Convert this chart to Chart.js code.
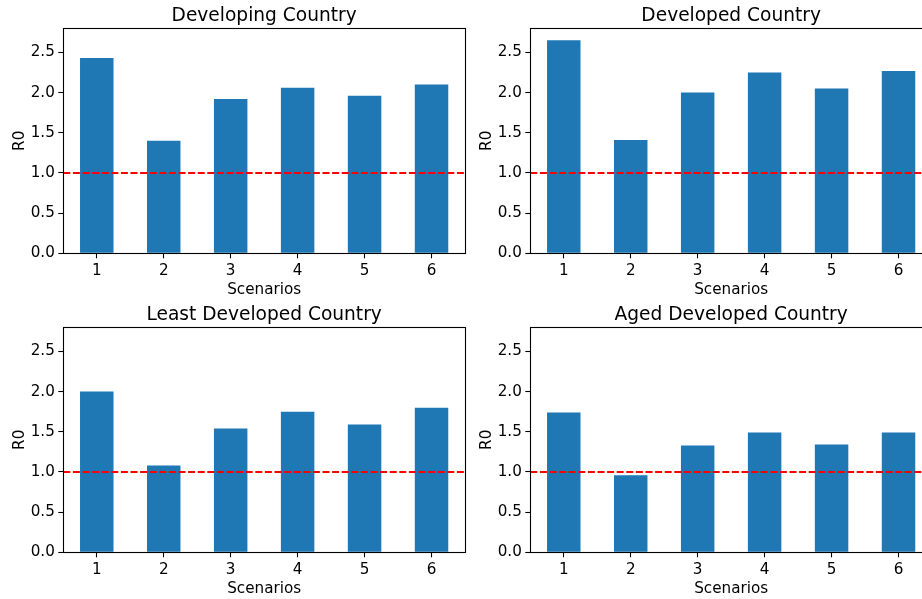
<!DOCTYPE html>
<html>
<head>
<meta charset="utf-8">
<script src="https://cdn.jsdelivr.net/npm/chart.js@4.4.1/dist/chart.umd.min.js"></script>
<style>
  html, body { margin: 0; padding: 0; background: #fff; width: 922px; height: 599px; overflow: hidden; }
  .panel { position: absolute; width: 470px; height: 300px; }
  .panel canvas { display: block; }
</style>
</head>
<body>
<div class="panel" style="left:0px;top:0px;"><canvas id="c1" width="470" height="300"></canvas></div>
<div class="panel" style="left:467px;top:0px;"><canvas id="c2" width="470" height="300"></canvas></div>
<div class="panel" style="left:0px;top:298.5px;"><canvas id="c3" width="470" height="300"></canvas></div>
<div class="panel" style="left:467px;top:298.5px;"><canvas id="c4" width="470" height="300"></canvas></div>
<script>
// ---- data ----
const scenarios = ['1', '2', '3', '4', '5', '6'];
const developing = [2.43, 1.40, 1.92, 2.06, 1.96, 2.10];
const developed = [2.65, 1.41, 2.00, 2.25, 2.05, 2.27];
const leastDeveloped = [2.00, 1.08, 1.54, 1.75, 1.59, 1.80];
const agedDeveloped = [1.74, 0.96, 1.33, 1.49, 1.34, 1.49];
const panelTitles = ['Developing Country', 'Developed Country', 'Least Developed Country', 'Aged Developed Country'];
const yTicks = [0, 0.5, 1.0, 1.5, 2.0, 2.5];
const threshold = 1.0;
const yMax = 2.8;

// ---- styling ----
const FONT = 'DejaVu Sans';
Chart.defaults.font.family = FONT;
Chart.defaults.color = '#000';

const decor = {
  id: 'decor',
  afterDatasetsDraw(chart, args, opts) {
    const { ctx, chartArea: a, scales: { y } } = chart;
    const py = y.getPixelForValue(threshold);
    ctx.save();
    ctx.strokeStyle = '#ff0000';
    ctx.lineWidth = 2;
    ctx.setLineDash([7, 2.6]);
    ctx.beginPath();
    ctx.moveTo(a.left, py);
    ctx.lineTo(a.right, py);
    ctx.stroke();
    ctx.setLineDash([]);
    ctx.strokeStyle = '#000';
    ctx.lineWidth = 1.1;
    ctx.strokeRect(Math.round(a.left) + 0.5, Math.round(a.top) + 0.5,
                   Math.round(a.right) - Math.round(a.left), Math.round(a.bottom) - Math.round(a.top));
    // panel title, centred over the plot area
    ctx.fillStyle = '#000';
    ctx.font = '18.6px "' + FONT + '"';
    ctx.textAlign = 'center';
    ctx.textBaseline = 'alphabetic';
    ctx.fillText(opts.text, (a.left + a.right) / 2, a.top - 7.6);
    ctx.restore();
  }
};

function makeChart(id, title, values) {
  new Chart(document.getElementById(id), {
    type: 'bar',
    data: {
      labels: scenarios,
      datasets: [{
        data: values,
        backgroundColor: '#1f77b4',
        borderWidth: 0,
        categoryPercentage: 1.0,
        barPercentage: 0.5
      }]
    },
    options: {
      responsive: false,
      animation: false,
      events: [],
      layout: { padding: { left: 0, right: 5, top: 28.3, bottom: 0 } },
      plugins: {
        legend: { display: false },
        tooltip: { enabled: false },
        title: { display: false },
        decor: { text: title }
      },
      scales: {
        x: {
          type: 'category',
          offset: true,
          grid: { display: true, drawOnChartArea: false, drawTicks: true, tickLength: 5, offset: false, color: '#000', tickColor: '#000', tickWidth: 1.1 },
          border: { display: false },
          ticks: { color: '#000', font: { family: FONT, size: 15.2 }, padding: 3.5, maxRotation: 0, autoSkip: false },
          title: { display: true, text: 'Scenarios', color: '#000', font: { family: FONT, size: 15.2 }, padding: { top: 0, bottom: 1 } },
          afterFit(scale) { scale.height = 46.7; }
        },
        y: {
          type: 'linear',
          min: 0,
          max: yMax,
          afterBuildTicks(scale) { scale.ticks = yTicks.map(v => ({ value: v })); },
          grid: { display: true, drawOnChartArea: false, drawTicks: true, tickLength: 5, color: '#000', tickColor: '#000', tickWidth: 1.1 },
          border: { display: false },
          ticks: {
            color: '#000',
            font: { family: FONT, size: 15.2 },
            padding: 3.5,
            callback: (v) => Number(v).toFixed(1)
          },
          title: { display: true, text: 'R0', color: '#000', font: { family: FONT, size: 15.2 }, padding: { top: 11, bottom: 0 } },
          afterFit(scale) { scale.width = 63.3; }
        }
      }
    },
    plugins: [decor]
  });
}

makeChart('c1', panelTitles[0], developing);
makeChart('c2', panelTitles[1], developed);
makeChart('c3', panelTitles[2], leastDeveloped);
makeChart('c4', panelTitles[3], agedDeveloped);
</script>
</body>
</html>
